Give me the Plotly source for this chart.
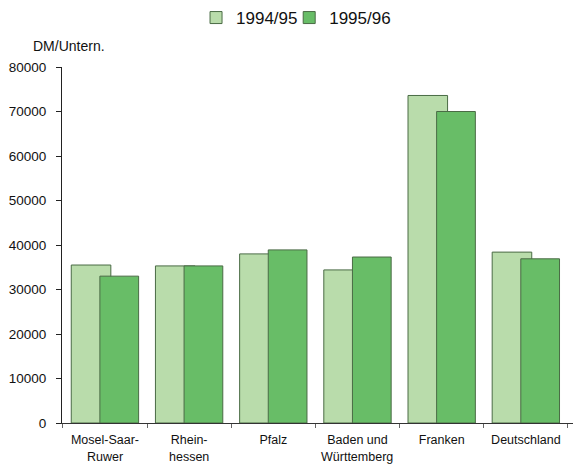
import plotly.graph_objects as go

regions = ["Mosel-Saar-Ruwer", "Rheinhessen", "Pfalz", "Baden und Württemberg", "Franken", "Deutschland"]
label_line1 = ["Mosel-Saar-", "Rhein-", "Pfalz", "Baden und", "Franken", "Deutschland"]
label_line2 = ["Ruwer", "hessen", "", "Württemberg", "", ""]
values_9495 = [35500, 35300, 38000, 34400, 73600, 38400]
values_9596 = [33000, 35300, 38900, 37300, 70000, 36900]
y_ticks = [0, 10000, 20000, 30000, 40000, 50000, 60000, 70000, 80000]

light = "#b9dcab"
dark = "#68bd67"
edge = "#4a6b45"

fig = go.Figure()
fig.add_trace(go.Bar(
    x=regions, y=values_9495, name="1994/95", legend="legend",
    marker=dict(color=light, line=dict(color=edge, width=1)),
    offset=-0.40, width=0.47,
))
fig.add_trace(go.Bar(
    x=regions, y=values_9596, name="1995/96", legend="legend2",
    marker=dict(color=dark, line=dict(color=edge, width=1)),
    offset=-0.06, width=0.46,
))

# second lines of the category labels, set with a wider line spacing
annotations = [dict(
    text="DM/Untern.", xref="paper", yref="paper", x=-0.06, y=1.03,
    xanchor="left", yanchor="bottom", showarrow=False, font=dict(size=14),
)]
for name, line2 in zip(regions, label_line2):
    if line2:
        annotations.append(dict(
            text=line2, x=name, xref="x", yref="paper", y=0, yshift=-34,
            xanchor="center", yanchor="middle", showarrow=False, font=dict(size=12.5),
        ))

legend_style = dict(
    orientation="h", xref="container", yref="container", xanchor="left",
    y=1.0, yanchor="top", font=dict(size=17), itemwidth=30,
    bgcolor="rgba(0,0,0,0)",
)

fig.update_layout(
    width=580, height=466,
    barmode="overlay",
    plot_bgcolor="white", paper_bgcolor="white",
    font=dict(family="Liberation Sans, Arial, sans-serif", color="#111111"),
    margin=dict(l=62, r=7, t=67, b=43, autoexpand=False),
    showlegend=True,
    legend=dict(x=0.338, **legend_style),
    legend2=dict(x=0.4986, **legend_style),
    annotations=annotations,
)
fig.update_yaxes(
    range=[0, 80000], tickvals=y_ticks, ticktext=[str(v) for v in y_ticks],
    showgrid=False, zeroline=False, showline=True, linecolor="#222222", linewidth=1,
    ticks="outside", ticklen=5, tickcolor="#222222", tickfont=dict(size=13.5),
    ticklabelstandoff=7,
)
fig.update_xaxes(
    range=[-0.51, 5.56], tickvals=regions, ticktext=label_line1,
    showgrid=False, showline=True, linecolor="#333333", linewidth=1,
    ticks="outside", tickson="boundaries", ticklen=4, tickcolor="#666666",
    tickfont=dict(size=12.5), ticklabelstandoff=5,
)

fig.write_html("out.html")
